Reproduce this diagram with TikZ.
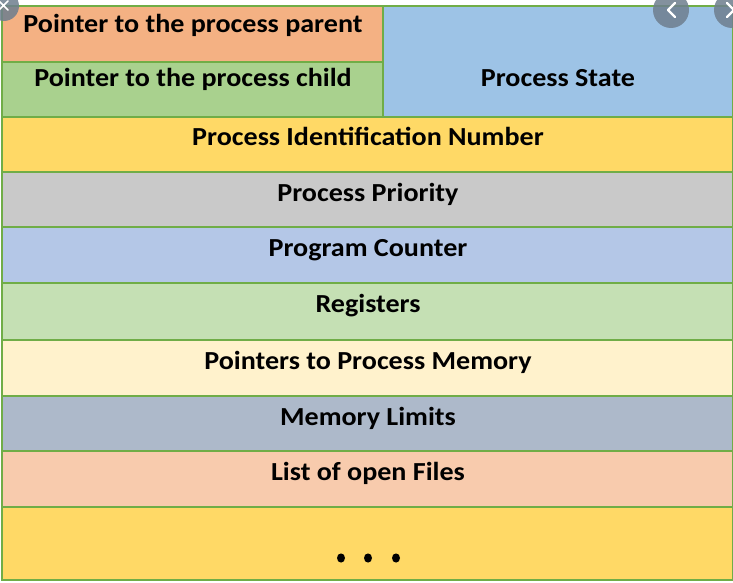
\documentclass[tikz,border=0pt]{standalone}
\usepackage{fontspec}
\usepackage{graphicx}
\setmainfont{Carlito}
\newcommand\widetext[1]{\scalebox{1.08}[1]{#1}}
\begin{document}
\begin{tikzpicture}[x=1pt,y=-1pt,
  cell/.style={draw=frame,line width=2.6pt},
  label/.style={anchor=base,font=\fontsize{26}{30}\selectfont\bfseries,inner sep=0pt},
  chevron/.style={draw=white,line width=2.2pt,line cap=round,line join=round}]
\definecolor{frame}{HTML}{70AD47}
\definecolor{cparent}{HTML}{F4B183}
\definecolor{cchild}{HTML}{A9D18E}
\definecolor{cstate}{HTML}{9DC3E6}
\definecolor{cpid}{HTML}{FFD966}
\definecolor{cprio}{HTML}{C9C9C9}
\definecolor{cpc}{HTML}{B4C7E7}
\definecolor{creg}{HTML}{C5E0B4}
\definecolor{cmem}{HTML}{FFF2CC}
\definecolor{climit}{HTML}{ADB9CA}
\definecolor{cfiles}{HTML}{F8CBAD}
\definecolor{cmore}{HTML}{FFD966}
\definecolor{navgrey}{HTML}{6E7E8E}
\useasboundingbox[fill=white] (0,0) rectangle (733,583);

% top block: two stacked pointer cells and the state cell beside them
\fill[cparent] (2,6) rectangle (383,62);
\fill[cchild] (2,62) rectangle (383,117);
\fill[cstate] (383,6) rectangle (733,117);
\draw[cell] (2,6) rectangle (383,62);
\draw[cell] (2,62) rectangle (383,117);
\draw[cell] (383,6) rectangle (733,117);
\node[label] (parent) at (193,33) {\widetext{Pointer to the process parent}};
\node[label] (child) at (193,87) {\widetext{Pointer to the process child}};
\node[label] (state) at (558,87) {\widetext{Process State}};

% full-width rows of the control block
\foreach \top/\bot/\col/\name/\txt in {
  117/172/cpid/pid/Process Identification Number,
  172/227/cprio/prio/Process Priority,
  227/283/cpc/pc/Program Counter,
  283/340/creg/reg/Registers,
  340/396/cmem/mem/Pointers to Process Memory,
  396/451/climit/limit/Memory Limits,
  451/507/cfiles/files/List of open Files}{
  \fill[\col] (2,\top) rectangle (733,\bot);
  \draw[cell] (2,\top) rectangle (733,\bot);
  \node[label] (\name) at (368,\top+29) {\widetext{\txt}};
}
\fill[cmore] (2,507) rectangle (733,580);
\draw[cell] (2,507) rectangle (733,580);
\foreach \x in {341,368,396}
  \fill[black] (\x,558) ellipse (4pt and 4.6pt);

% floating navigation buttons
\fill[navgrey,opacity=0.85] (4,6) circle (15);
\draw[chevron,line width=1.6pt] (-1,1) -- (8,10) (8,1) -- (-1,10);
\fill[navgrey,opacity=0.85] (671,10) circle (18);
\draw[chevron] (675,3) -- (668,10) -- (675,17);
\fill[navgrey,opacity=0.85] (732,10) circle (18);
\draw[chevron] (727,3) -- (734,10) -- (727,17);
\end{tikzpicture}
\end{document}
